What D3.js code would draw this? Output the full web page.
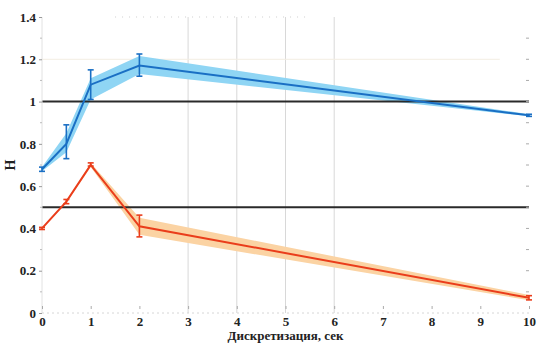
<!DOCTYPE html>
<html><head><meta charset="utf-8">
<script src="https://cdn.jsdelivr.net/npm/d3@7/dist/d3.min.js"></script>
<style>body{margin:0;background:#fff}svg{display:block}</style>
</head><body>
<svg id="c" width="539" height="344"></svg>
<script>
// Data
const xTicks = [0,1,2,3,4,5,6,7,8,9,10];
const yTicks = [0,0.2,0.4,0.6,0.8,1,1.2,1.4];
const yTickLabels = ["0","0.2","0.4","0.6","0.8","1","1.2","1.4"];
const refLines = [1, 0.5];
const gridX = [3,4,5,6];

const blueX = [0, 0.5, 1, 2, 10];
const blueY = [0.68, 0.80, 1.08, 1.17, 0.935];
const blueErrLo = [0.67, 0.73, 1.01, 1.12, 0.93];
const blueErrHi = [0.69, 0.89, 1.15, 1.225, 0.94];
const blueBandLo = [0.67, 0.76, 1.01, 1.13, 0.93];
const blueBandHi = [0.69, 0.85, 1.11, 1.215, 0.94];

const redX = [0, 0.5, 1, 2, 10];
const redY = [0.40, 0.527, 0.70, 0.41, 0.072];
const redErrLo = [0.395, 0.517, 0.695, 0.36, 0.062];
const redErrHi = [0.405, 0.537, 0.71, 0.463, 0.082];
const redBandLo = [0.40, 0.52, 0.69, 0.37, 0.06];
const redBandHi = [0.40, 0.53, 0.71, 0.45, 0.085];

const xLabel = "Дискретизация, сек";
const yLabel = "H";

const svg = d3.select("#c");
const L = 42, R = 529, T = 17, B = 313;
const x = d3.scaleLinear().domain([0,10]).range([L,R]);
const y = d3.scaleLinear().domain([0,1.4]).range([B,T]);
const font = "'Liberation Serif','Times New Roman',serif";

// grid
svg.append("g").selectAll("line").data(gridX).join("line")
  .attr("x1",d=>x(d)).attr("x2",d=>x(d)).attr("y1",T).attr("y2",B)
  .attr("stroke","#d8d8d8").attr("stroke-width",1);
svg.append("line").attr("x1",L).attr("x2",x(9.4)).attr("y1",y(1.2)).attr("y2",y(1.2))
  .attr("stroke","#f3ede2").attr("stroke-width",1);

// bands
function band(xs, lo, hi, color){
  const data = xs.map((d,i)=>({x:d,lo:lo[i],hi:hi[i]}));
  svg.append("path").datum(data)
    .attr("d", d3.area().x(d=>x(d.x)).y0(d=>y(d.lo)).y1(d=>y(d.hi)))
    .attr("fill", color).attr("stroke","none");
}
band(blueX, blueBandLo, blueBandHi, "#8fd5f4");
band(redX, redBandLo, redBandHi, "#fbd3a3");

// reference lines
svg.append("g").selectAll("line").data(refLines).join("line")
  .attr("x1",L).attr("x2",R).attr("y1",d=>y(d)).attr("y2",d=>y(d))
  .attr("stroke","#2a2a2a").attr("stroke-width",2);

// axes frame (faint)
const axG = svg.append("g");
axG.append("line").attr("x1",L).attr("x2",L).attr("y1",T).attr("y2",B).attr("stroke","#e2e2e2");
axG.append("line").attr("x1",L).attr("x2",R).attr("y1",B).attr("y2",B).attr("stroke","#d6d6d6").attr("stroke-dasharray","2,3");
axG.append("line").attr("x1",x(1.5)).attr("x2",x(5.5)).attr("y1",T).attr("y2",T).attr("stroke","#cfcfcf").attr("stroke-dasharray","1,6");

// y axis
const yAxis = d3.axisLeft(y).tickValues(yTicks).tickSize(3).tickPadding(3)
  .tickFormat((d,i)=>yTickLabels[i]);
const gy = svg.append("g").attr("transform",`translate(${L},0)`).call(yAxis);
gy.select(".domain").remove();
gy.selectAll(".tick line").attr("stroke","#999");
gy.selectAll("text").attr("font-family",font).attr("font-weight","bold").attr("font-size",13).attr("fill","#222");
// minor ticks left and right
const minorY = d3.range(0.1,1.4,0.2);
svg.append("g").selectAll("line").data(minorY).join("line")
  .attr("x1",L-2).attr("x2",L).attr("y1",d=>y(d)).attr("y2",d=>y(d)).attr("stroke","#bbb");
svg.append("g").selectAll("line").data(d3.range(0.1,1.4,0.1)).join("line")
  .attr("x1",R-3).attr("x2",R).attr("y1",d=>y(d)).attr("y2",d=>y(d)).attr("stroke","#aaa");

// x axis
const xAxis = d3.axisBottom(x).tickValues(xTicks).tickSize(3).tickPadding(1).tickFormat(d3.format("d"));
const gx = svg.append("g").attr("transform",`translate(0,${B})`).call(xAxis);
gx.select(".domain").remove();
gx.selectAll(".tick line").attr("stroke","#aaa").attr("transform","translate(0,-7)");
gx.selectAll("text").attr("font-family",font).attr("font-weight","bold").attr("font-size",13).attr("fill","#222");

// lines, error bars
function series(xs, ys, lo, hi, color){
  const data = xs.map((d,i)=>({x:d,y:ys[i],lo:lo[i],hi:hi[i]}));
  svg.append("path").datum(data)
    .attr("d", d3.line().x(d=>x(d.x)).y(d=>y(d.y)))
    .attr("fill","none").attr("stroke",color).attr("stroke-width",2);
  const g = svg.append("g").attr("stroke",color).attr("stroke-width",1.6);
  g.selectAll(".v").data(data).join("line")
    .attr("x1",d=>x(d.x)).attr("x2",d=>x(d.x)).attr("y1",d=>y(d.lo)).attr("y2",d=>y(d.hi));
  g.selectAll(".t").data(data).join("line")
    .attr("x1",d=>x(d.x)-3).attr("x2",d=>x(d.x)+3).attr("y1",d=>y(d.hi)).attr("y2",d=>y(d.hi));
  g.selectAll(".b").data(data).join("line")
    .attr("x1",d=>x(d.x)-3).attr("x2",d=>x(d.x)+3).attr("y1",d=>y(d.lo)).attr("y2",d=>y(d.lo));
}
series(blueX, blueY, blueErrLo, blueErrHi, "#1a6fc4");
series(redX, redY, redErrLo, redErrHi, "#ea3d1b");

// labels
svg.append("text").attr("x",x(5)).attr("y",340).attr("text-anchor","middle")
  .attr("font-family",font).attr("font-weight","bold").attr("font-size",13).attr("fill","#222").text(xLabel);
svg.append("text").attr("transform",`translate(15,165) rotate(-90)`).attr("text-anchor","middle")
  .attr("font-family",font).attr("font-weight","bold").attr("font-size",14).attr("fill","#222").text(yLabel);
</script>
</body></html>
